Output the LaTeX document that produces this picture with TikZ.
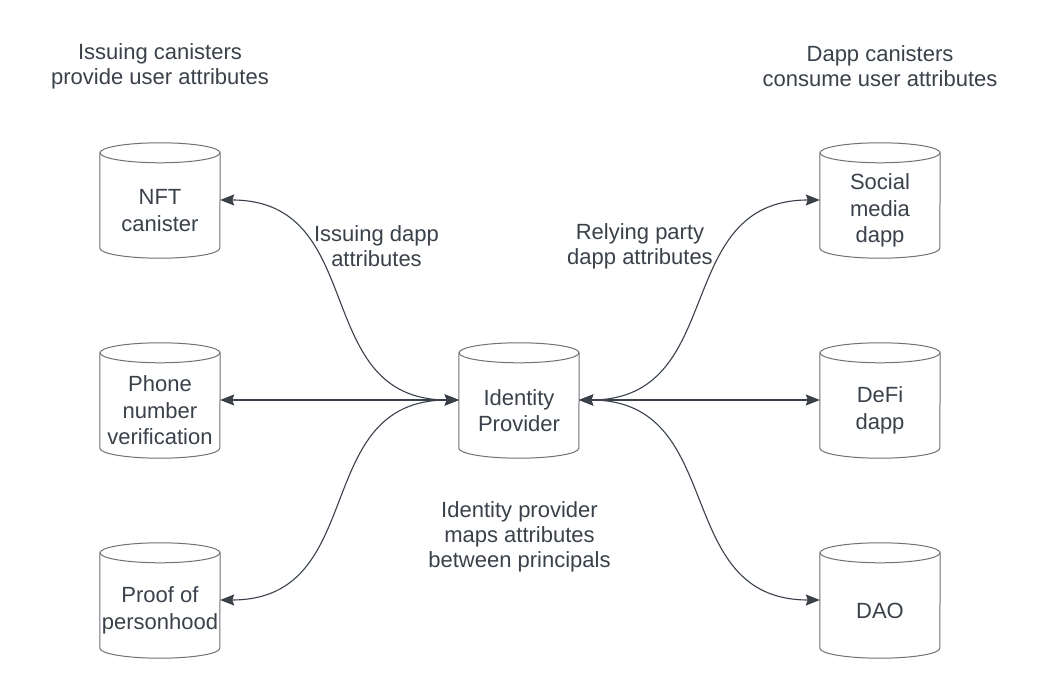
\documentclass[tikz,border=0pt]{standalone}
\usepackage{fontspec}
\setmainfont{Liberation Sans}
\usetikzlibrary{arrows.meta,calc}
\definecolor{txt}{HTML}{3A414A}
\definecolor{edge}{HTML}{6E7177}
\begin{document}
\begin{tikzpicture}[x=1pt,y=1pt,
 body/.style={minimum width=120pt,minimum height=95pt,inner sep=0pt,align=center,text=txt,font=\fontsize{22}{26.5}\selectfont},
 lbl/.style={align=center,text=txt,font=\fontsize{22}{25}\selectfont,inner sep=0pt},
 tip/.style={Stealth[length=14pt,width=11pt,inset=2pt]},
 link/.style={draw=txt,line width=1.1pt,{Stealth[length=14pt,width=11pt,inset=2pt]}-{Stealth[length=14pt,width=11pt,inset=2pt]}},
 cylline/.style={draw=edge,line width=1pt}]
\useasboundingbox[fill=white] (0,0) rectangle (1040,700);

\node[body] (nft) at (160,489.5) {NFT\\canister};
\node[body] (phone) at (160,289.5) {Phone\\number\\verification};
\node[body] (proof) at (160,89.5) {Proof of\\personhood};
\node[body] (idp) at (519,289.5) {Identity\\Provider};
\node[body] (social) at (880,489.5) {Social\\media\\dapp};
\node[body] (defi) at (880,289.5) {DeFi\\dapp};
\node[body] (dao) at (880,89.5) {DAO};

\foreach \n in {nft,phone,proof,idp,social,defi,dao}{
  \draw[cylline] ([yshift=10pt]\n.north west) -- ([yshift=10pt]\n.south west)
     arc[start angle=180,end angle=360,x radius=60pt,y radius=10pt]
     -- ([yshift=10pt]\n.north east);
  \draw[cylline] ([yshift=10pt]\n.north) ellipse [x radius=60pt, y radius=10pt];
}

\node[lbl] (l1) at (160,634) {Issuing canisters\\provide user attributes};
\node[lbl] (l2) at (880,634) {Dapp canisters\\consume user attributes};
\node[lbl] (l3) at (376.5,453.5) {Issuing dapp\\attributes};
\node[lbl] (l4) at (640,453.5) {Relying party\\dapp attributes};
\node[lbl] (l5) at (519.5,163) {Identity provider\\maps attributes\\between principals};

\draw[link] ([yshift=10.5pt]idp.west) .. controls +(-150,0) and +(150,0) .. ([yshift=10.5pt]nft.east);
\draw[link] ([yshift=10.5pt]idp.west) -- ([yshift=10.5pt]phone.east);
\draw[link] ([yshift=10.5pt]idp.west) .. controls +(-150,0) and +(150,0) .. ([yshift=10.5pt]proof.east);
\draw[link] ([yshift=10.5pt]idp.east) .. controls +(150,0) and +(-150,0) .. ([yshift=10.5pt]social.west);
\draw[link] ([yshift=10.5pt]idp.east) -- ([yshift=10.5pt]defi.west);
\draw[link] ([yshift=10.5pt]idp.east) .. controls +(150,0) and +(-150,0) .. ([yshift=10.5pt]dao.west);
\end{tikzpicture}
\end{document}
